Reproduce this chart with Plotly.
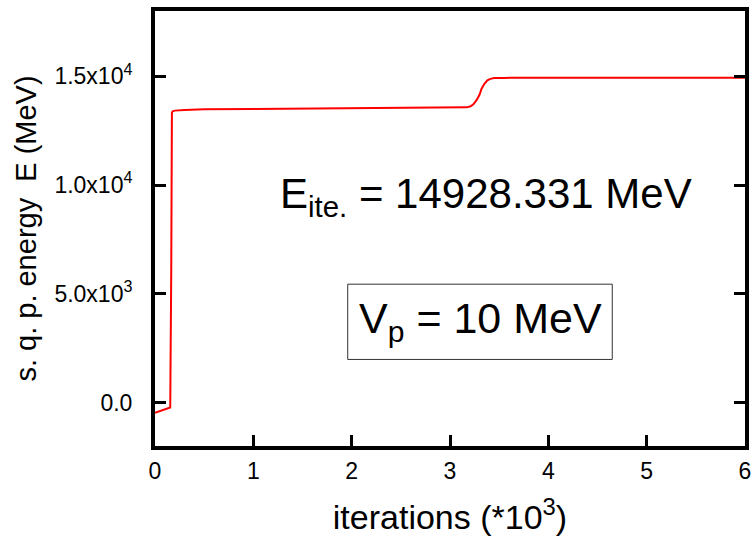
import plotly.graph_objects as go

# Single-quasiparticle energy versus iteration count (iterations in units of 10^3)
iterations = [0.0, 0.05, 0.10, 0.14, 0.155, 0.165, 0.172, 0.18, 0.20, 0.30, 0.50,
              1.0, 1.5, 2.0, 2.5, 3.0, 3.10, 3.17, 3.21, 3.24, 3.27, 3.30,
              3.32, 3.35, 3.38, 3.41, 3.45, 3.55, 4.0, 5.0, 6.0]
energy = [-470, -400, -320, -250, -230, 6000, 13330, 13390, 13420, 13450, 13480,
          13500, 13510, 13520, 13530, 13540, 13550, 13570, 13620, 13720, 13900, 14150,
          14420, 14650, 14810, 14880, 14915, 14925, 14928, 14928.331, 14928.331]

y_tickvals = [0, 5000, 10000, 15000]
y_ticktext = ["0.0", "5.0x10<sup>3</sup>", "1.0x10<sup>4</sup>", "1.5x10<sup>4</sup>"]
x_tickvals = [0, 1, 2, 3, 4, 5, 6]
x_ticktext = ["0", "1", "2", "3", "4", "5", "6"]

E_final = 14928.331
V_p = 10

font_family = "Liberation Sans, Arial, sans-serif"

fig = go.Figure()
fig.add_trace(go.Scatter(
    x=iterations, y=energy, mode="lines",
    line=dict(color="#ff0000", width=2),
    showlegend=False,
))

axis_common = dict(
    showgrid=False, zeroline=False,
    showline=True, linecolor="black", linewidth=4,
    ticks="inside", ticklen=11, tickwidth=3, tickcolor="black",
    tickfont=dict(family=font_family, size=23, color="black"),
)

fig.update_xaxes(
    range=[0, 6], tickvals=x_tickvals, ticktext=x_ticktext,
    mirror=True,
    title=dict(text="iterations (*10<sup>3</sup>)",
               font=dict(family=font_family, size=34, color="black"),
               standoff=24),
    ticklabelstandoff=1,
    **axis_common,
)
fig.update_yaxes(
    range=[-2000, 18000], tickvals=y_tickvals, ticktext=y_ticktext,
    mirror="ticks",
    title=dict(text="s. q. p. energy  E (MeV)",
               font=dict(family=font_family, size=29, color="black"),
               standoff=10),
    ticklabelstandoff=14,
    **axis_common,
)

# Converged energy label
fig.add_annotation(
    x=1.25, y=9450, xref="x", yref="y", xanchor="left", yanchor="middle",
    text=f"E<sub>ite.</sub> = {E_final:.3f} MeV", showarrow=False,
    font=dict(family=font_family, size=42, color="black"),
)

# Pairing strength label in a framed box
fig.add_shape(type="rect", xref="x", yref="y",
              x0=1.96, x1=4.65, y0=1980, y1=5440,
              line=dict(color="#333333", width=1), fillcolor="rgba(0,0,0,0)")
fig.add_annotation(
    x=3.31, y=3750, xref="x", yref="y", xanchor="center", yanchor="middle",
    text=f"V<sub>p</sub> = {V_p} MeV", showarrow=False,
    font=dict(family=font_family, size=43, color="black"),
)

fig.update_layout(
    width=754, height=541,
    margin=dict(l=155, r=3, t=11, b=95),
    paper_bgcolor="white", plot_bgcolor="white",
)

fig.write_html("out.html")
